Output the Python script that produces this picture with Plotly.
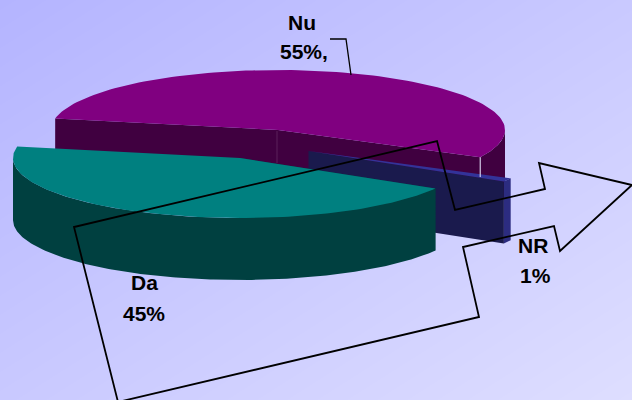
import numpy as np
import plotly.graph_objects as go

names = ["Nu", "NR", "Da"]
values = [55, 1, 45]
labels_pct = ["55%,", "1%", "45%"]
top_colors = ["#800080", "#333399", "#008080"]
wall_colors = ["#400040", "#1A1A4D", "#004040"]

W, H = 632, 400
A, B, DEPTH = 227, 60, 62
START = 191
centers = [(278, 130), (308.5, 151), (240, 158)]

frac = np.array(values) / sum(values) * 360
starts = START + np.concatenate([[0], np.cumsum(frac)[:-1]])


def pt(c, th):
    t = np.radians(th)
    return c[0] + A * np.cos(t), c[1] + B * np.sin(t)


def poly(fig, xs, ys, color):
    fig.add_trace(go.Scatter(x=xs, y=ys, mode="lines", fill="toself", fillcolor=color,
                             line=dict(width=0, color=color), hoverinfo="skip", showlegend=False))


def wedge_top(c, a0, a1):
    th = np.linspace(a0, a1, 120)
    x, y = pt(c, th)
    return [c[0], *x, c[0]], [c[1], *y, c[1]]


def outer_wall(fig, c, a0, a1, color):
    # only the front half (sin > 0) of the rim is visible
    rng = [a for a in np.linspace(a0, a1, 200) if np.sin(np.radians(a)) >= 0]
    if not rng:
        return
    x, y = pt(c, np.array(rng))
    poly(fig, [*x, *x[::-1], x[0]], [*y, *(y[::-1] + DEPTH), y[0]], color)


def cut_wall(fig, c, a, color):
    x, y = pt(c, a)
    poly(fig, [c[0], x, x, c[0], c[0]], [c[1], y, y + DEPTH, c[1] + DEPTH, c[1]], color)


fig = go.Figure()
fig.add_trace(go.Heatmap(x=[0, W], y=[0, H], z=[[0, 1], [1, 2]], zsmooth="best", showscale=False,
                         colorscale=[[0, "#B4B4FF"], [1, "#DEDEFF"]], hoverinfo="skip"))

# Nu: back slice
a0, a1 = starts[0], starts[0] + frac[0]
outer_wall(fig, centers[0], 360, a1, wall_colors[0])
cut_wall(fig, centers[0], a0, wall_colors[0])
cut_wall(fig, centers[0], a1, wall_colors[0])
poly(fig, *wedge_top(centers[0], a0, a1), top_colors[0])

# NR: thin exploded slice
a0, a1 = starts[1], starts[1] + frac[1]
outer_wall(fig, centers[1], a0, a1, "#2C2C80")
cut_wall(fig, centers[1], a1, wall_colors[1])
poly(fig, *wedge_top(centers[1], a0, a1), top_colors[1])

# Da: exploded front slice
a0, a1 = starts[2], starts[2] + frac[2]
cut_wall(fig, centers[2], a0, wall_colors[2])
outer_wall(fig, centers[2], a0, a1, wall_colors[2])
poly(fig, *wedge_top(centers[2], a0, a1), top_colors[2])

# highlights on Nu walls
ex, ey = pt(centers[0], starts[0] + frac[0])
shapes = [
    dict(type="line", x0=ex, x1=ex, y0=ey, y1=177, line=dict(color="#E8E8FF", width=1)),
    dict(type="line", x0=277, x1=277, y0=131, y1=163, line=dict(color="#5A205A", width=1)),
    # big outlined block arrow
    dict(type="path",
         path="M437,141 L455,210 L545,189 L539,163 L632,185 L560,251 L554,226 L463,247 "
              "L479,317 L118,402 L74,227 Z",
         line=dict(color="#000", width=1.8), fillcolor="rgba(0,0,0,0)"),
    # leader line of the Nu label
    dict(type="path", path="M330,39 L346,39 L351,75", line=dict(color="#000", width=1.3),
         fillcolor="rgba(0,0,0,0)"),
]

label_pos = {"Nu": ((302, 22), (304, 51)), "NR": ((533, 245), (535, 275)), "Da": ((144, 282), (144, 313))}
annotations = []
for n, p in zip(names, labels_pct):
    for txt, (x, yy) in zip((n, p), label_pos[n]):
        annotations.append(dict(x=x, y=yy, text=f"<b>{txt}</b>", showarrow=False, xanchor="center",
                                yanchor="middle", font=dict(family="Liberation Sans, Arial", size=21, color="#000")))

fig.update_layout(width=W, height=H, margin=dict(l=0, r=0, t=0, b=0),
                  paper_bgcolor="#C8C8FF", plot_bgcolor="#C8C8FF", showlegend=False,
                  xaxis=dict(range=[0, W], visible=False, fixedrange=True),
                  yaxis=dict(range=[H, 0], visible=False, fixedrange=True),
                  shapes=shapes, annotations=annotations)
fig.write_html("out.html", config={"displayModeBar": False},
               post_script="document.body.style.margin='0';")
